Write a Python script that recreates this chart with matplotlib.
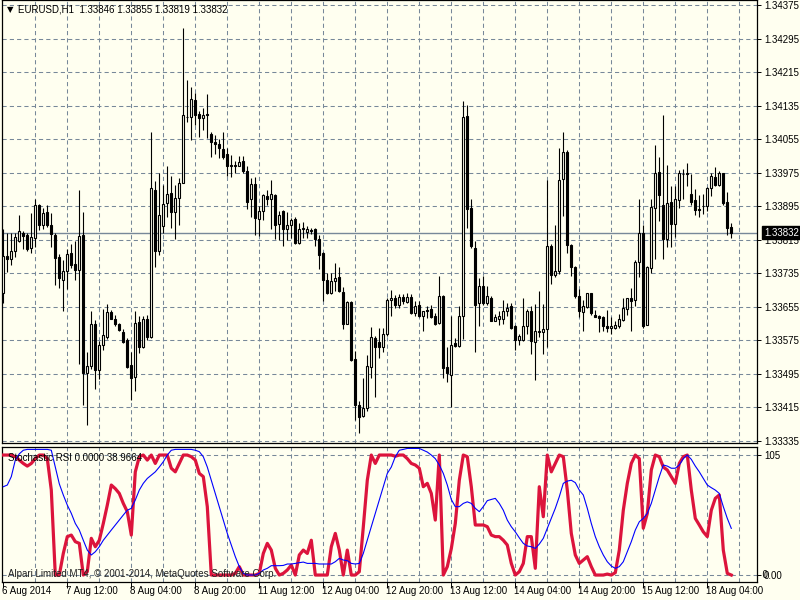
import numpy as np
import matplotlib
matplotlib.use("Agg")
import matplotlib.pyplot as plt
from matplotlib.transforms import blended_transform_factory

# ---------------- data ----------------
opens = [
 1.33687,1.33777,1.33768,1.33787,1.33811,1.33832,1.33827,1.33795,1.33819,1.33897,
 1.33850,1.33882,1.33850,1.33827,1.33774,1.33719,1.33741,1.33783,1.33758,1.33742,
 1.33827,1.33498,1.33513,1.33613,1.33503,1.33563,1.33583,1.33642,1.33626,1.33615,
 1.33596,1.33576,1.33516,1.33487,1.33618,1.33560,1.33627,1.33584,1.33934,1.33787,
 1.33848,1.33902,1.33926,1.33880,1.33914,1.33951,1.34109,1.34107,1.34149,1.34115,
 1.34105,1.34115,1.34067,1.34047,1.34044,1.34032,1.34020,1.33993,1.33993,1.33991,
 1.34003,1.33980,1.33912,1.33949,1.33864,1.33883,1.33919,1.33913,1.33921,1.33852,
 1.33883,1.33841,1.33849,1.33864,1.33807,1.33841,1.33834,1.33838,1.33840,1.33817,
 1.33783,1.33720,1.33687,1.33716,1.33726,1.33691,1.33615,1.33667,1.33531,1.33421,
 1.33394,1.33413,1.33511,1.33580,1.33572,1.33559,1.33589,1.33672,1.33675,1.33660,
 1.33678,1.33667,1.33678,1.33641,1.33659,1.33633,1.33647,1.33649,1.33633,1.33617,
 1.33680,1.33512,1.33493,1.33569,1.33562,1.33633,1.34111,1.33890,1.33795,1.33664,
 1.33704,1.33664,1.33676,1.33622,1.33626,1.33626,1.33646,1.33657,1.33608,1.33576,
 1.33576,1.33610,1.33646,1.33570,1.33596,1.33596,1.33602,1.33800,1.33731,1.33740,
 1.33960,1.34025,1.33802,1.33750,1.33681,1.33642,1.33655,1.33687,1.33636,1.33634,
 1.33631,1.33610,1.33604,1.33604,1.33608,1.33624,1.33650,1.33676,1.33672,1.33761,
 1.33830,1.33612,1.33748,1.33891,1.33976,1.33897,1.33816,1.33905,1.33853,1.33909,
 1.33973,1.33972,1.33925,1.33909,1.33889,1.33895,1.33895,1.33938,1.33964,1.33946,
 1.33974,1.33905,1.33846]
highs = [
 1.33840,1.33830,1.33830,1.33832,1.33874,1.33836,1.33832,1.33879,1.33911,1.33901,
 1.33891,1.33897,1.33879,1.33830,1.33781,1.33766,1.33793,1.33806,1.33811,1.33934,
 1.33882,1.33548,1.33644,1.33623,1.33574,1.33650,1.33662,1.33647,1.33636,1.33617,
 1.33603,1.33581,1.33546,1.33644,1.33632,1.33632,1.33636,1.34073,1.33954,1.33974,
 1.33946,1.33992,1.33966,1.33946,1.33962,1.34319,1.34195,1.34179,1.34166,1.34121,
 1.34129,1.34163,1.34073,1.34065,1.34055,1.34073,1.34033,1.34016,1.34002,1.34015,
 1.34015,1.33991,1.33962,1.33964,1.33896,1.33925,1.33933,1.33957,1.33925,1.33883,
 1.33886,1.33880,1.33868,1.33870,1.33856,1.33858,1.33847,1.33844,1.33844,1.33826,
 1.33785,1.33736,1.33736,1.33759,1.33749,1.33702,1.33669,1.33669,1.33549,1.33431,
 1.33484,1.33541,1.33607,1.33585,1.33605,1.33605,1.33676,1.33694,1.33683,1.33686,
 1.33686,1.33688,1.33686,1.33668,1.33670,1.33646,1.33656,1.33659,1.33641,1.33728,
 1.33683,1.33558,1.33633,1.33581,1.33656,1.34147,1.34137,1.33912,1.33812,1.33724,
 1.33728,1.33704,1.33680,1.33637,1.33644,1.33671,1.33665,1.33663,1.33612,1.33590,
 1.33676,1.33650,1.33657,1.33661,1.33693,1.33661,1.33958,1.33804,1.33849,1.34034,
 1.34071,1.34029,1.33805,1.33752,1.33697,1.33671,1.33689,1.33689,1.33647,1.33636,
 1.33634,1.33647,1.33630,1.33620,1.33638,1.33677,1.33677,1.33699,1.33766,1.33911,
 1.33849,1.33753,1.33913,1.34041,1.34012,1.34112,1.33993,1.33943,1.33943,1.33982,
 1.33984,1.33998,1.33972,1.33936,1.33922,1.33925,1.33940,1.33974,1.33988,1.33980,
 1.33974,1.33929,1.33855]
lows = [
 1.33664,1.33738,1.33754,1.33774,1.33809,1.33793,1.33789,1.33783,1.33797,1.33838,
 1.33840,1.33846,1.33797,1.33707,1.33699,1.33646,1.33697,1.33748,1.33719,1.33519,
 1.33421,1.33374,1.33507,1.33460,1.33483,1.33552,1.33579,1.33625,1.33609,1.33597,
 1.33568,1.33508,1.33432,1.33454,1.33545,1.33556,1.33576,1.33581,1.33751,1.33779,
 1.33830,1.33869,1.33842,1.33816,1.33850,1.33950,1.34097,1.34053,1.34089,1.34061,
 1.34077,1.34057,1.34013,1.34020,1.34009,1.34007,1.33967,1.33964,1.33974,1.33990,
 1.33974,1.33888,1.33870,1.33826,1.33823,1.33862,1.33897,1.33841,1.33817,1.33815,
 1.33799,1.33815,1.33819,1.33804,1.33806,1.33819,1.33819,1.33828,1.33799,1.33744,
 1.33669,1.33685,1.33685,1.33693,1.33691,1.33602,1.33614,1.33525,1.33385,1.33355,
 1.33392,1.33406,1.33484,1.33439,1.33532,1.33548,1.33585,1.33633,1.33653,1.33653,
 1.33662,1.33664,1.33637,1.33633,1.33630,1.33597,1.33629,1.33629,1.33611,1.33613,
 1.33485,1.33475,1.33415,1.33559,1.33559,1.33577,1.33842,1.33796,1.33548,1.33609,
 1.33660,1.33659,1.33621,1.33621,1.33612,1.33614,1.33634,1.33602,1.33552,1.33563,
 1.33574,1.33590,1.33543,1.33480,1.33584,1.33543,1.33559,1.33709,1.33726,1.33733,
 1.33871,1.33784,1.33729,1.33676,1.33630,1.33598,1.33652,1.33636,1.33630,1.33594,
 1.33598,1.33594,1.33591,1.33602,1.33604,1.33622,1.33636,1.33598,1.33656,1.33727,
 1.33604,1.33611,1.33735,1.33770,1.33859,1.33769,1.33798,1.33798,1.33822,1.33891,
 1.33913,1.33943,1.33899,1.33875,1.33869,1.33877,1.33883,1.33919,1.33944,1.33944,
 1.33897,1.33827,1.33819]
closes = [
 1.33775,1.33768,1.33789,1.33821,1.33836,1.33824,1.33793,1.33821,1.33897,1.33850,
 1.33879,1.33850,1.33828,1.33772,1.33723,1.33741,1.33780,1.33754,1.33742,1.33824,
 1.33498,1.33513,1.33613,1.33505,1.33563,1.33587,1.33642,1.33626,1.33615,1.33599,
 1.33570,1.33511,1.33485,1.33617,1.33560,1.33627,1.33584,1.33938,1.33787,1.33874,
 1.33900,1.33924,1.33882,1.33914,1.33951,1.34113,1.34107,1.34150,1.34113,1.34105,
 1.34113,1.34112,1.34047,1.34043,1.34033,1.34013,1.33992,1.33992,1.33991,1.34001,
 1.33978,1.33906,1.33949,1.33866,1.33883,1.33921,1.33912,1.33923,1.33850,1.33875,
 1.33841,1.33849,1.33862,1.33807,1.33841,1.33843,1.33840,1.33836,1.33817,1.33778,
 1.33718,1.33687,1.33716,1.33724,1.33693,1.33615,1.33667,1.33527,1.33421,1.33392,
 1.33413,1.33513,1.33582,1.33559,1.33559,1.33589,1.33671,1.33675,1.33660,1.33678,
 1.33668,1.33678,1.33641,1.33657,1.33633,1.33645,1.33645,1.33630,1.33613,1.33680,
 1.33510,1.33496,1.33565,1.33562,1.33633,1.34107,1.33888,1.33799,1.33660,1.33704,
 1.33664,1.33680,1.33622,1.33630,1.33634,1.33646,1.33653,1.33604,1.33576,1.33586,
 1.33610,1.33646,1.33573,1.33598,1.33598,1.33602,1.33800,1.33731,1.33740,1.33958,
 1.34025,1.33802,1.33750,1.33681,1.33644,1.33657,1.33687,1.33639,1.33631,1.33628,
 1.33610,1.33604,1.33610,1.33612,1.33626,1.33653,1.33676,1.33669,1.33763,1.33830,
 1.33608,1.33751,1.33893,1.33974,1.33921,1.33816,1.33903,1.33853,1.33911,1.33974,
 1.33971,1.33974,1.33905,1.33885,1.33885,1.33896,1.33938,1.33968,1.33946,1.33974,
 1.33903,1.33842,1.33832]

stoch_k = [
 100,100,100,98.6,95.8,93,90.8,93,97,100,
 100,97,70.8,0,0,18,32,33.3,27.8,26.4,
 0,2.8,30.6,23.6,29,43,58.3,75,72,68,
 59.7,52.8,33.3,86,98.6,100,95.8,100,93,100,
 100,100,89,86,93,100,100,98.6,95.8,84.7,
 82,57,0,0,0,0,0,0,1.4,7,
 0,0,0,0,1.4,18,26.4,20.8,5.6,0,
 1.4,4.2,8.3,0,16.7,20.8,18,29,0,0,
 0,0,23.6,34.7,20.8,0,20.8,0,0,2.8,
 40,79,100,93,100,100,100,100,99,100,
 100,97,93,91.7,89,73.6,76.4,68,45.8,100,
 0,7,22,43,79,100,98.6,73.6,41.7,41.7,
 41.7,40.3,33.3,32,32,29,25,9.7,0,2.8,
 9.7,32,32,5.6,73.6,48.6,100,86,93,100,
 98.6,70.8,34.7,16.7,9.7,12.5,15.3,7,0,0,
 0,0.8,0,2,20.8,54,76.4,93,100,97,
 39,51.4,87.5,100,98.6,90,87.5,82,76.4,93,
 98.6,100,70.8,47.2,41.7,36,32,54,63.9,66.7,
 20.8,1.4,0]
stoch_d = [
 73.6,75,82,95.8,101,104,104.7,104.7,104.7,104.7,
 104.7,104.7,104,90,76,66.7,58.3,51.4,43,37.5,
 29,20.8,16.7,19.4,23.6,29,33.3,37.5,41.7,45.8,
 50,54,55.6,62.5,70.8,76.4,80.5,83.3,86,90,
 94.4,100,104,104.7,104.7,104.7,104.7,104.7,104,102.8,
 98.6,90,79,68,57,45.8,34.7,25,15.3,7,
 1.4,0,0,0,1.4,4.2,5.6,7.8,7.8,7.8,
 8,9.2,9.2,9.7,10.3,10.8,9.7,9.7,9.7,9.2,
 9.2,9.2,9.2,11.1,13.9,12.5,12,9.7,9.2,9.7,
 18,29,40.3,51.4,62.5,73.6,84.7,90,98.6,104,
 104.7,105.5,105.5,105.5,105.5,104,102.5,100,97,91.7,
 84.7,75,63,57,57,59.7,61,59.7,55.6,52.8,
 57,62,63,63.9,59.7,54,45.8,40.3,36,31,
 26.4,24.2,23.6,22.2,25.8,30.6,38.9,47.2,55.6,65.3,
 76.4,78.3,79,77,70.8,66.7,55.6,43,32,23.6,
 16.7,11.1,7.5,5.6,7,11.1,19.4,27.8,37.5,44.4,
 47.2,51.4,59.7,70.8,82,91.7,90.8,89,89,91.7,
 97,100,96.4,90.8,86,80.5,75,72.8,70.8,68,
 57,47.2,38.9]

price_levels = [1.34375,1.34295,1.34215,1.34135,1.34055,1.33975,1.33895,
                1.33815,1.33735,1.33655,1.33575,1.33495,1.33415,1.33335]
date_idx = [0,16,32,48,64,80,96,112,128,144,160,176]
date_labels = ["6 Aug 2014","7 Aug 12:00","8 Aug 04:00","8 Aug 20:00",
               "11 Aug 12:00","12 Aug 04:00","12 Aug 20:00","13 Aug 12:00",
               "14 Aug 04:00","14 Aug 20:00","15 Aug 12:00","18 Aug 04:00"]
last_price = 1.33832
header = "EURUSD,H1  1.33846 1.33855 1.33819 1.33832"
ind_label = "Stochastic RSI 0.0000 38.9664"
watermark = "Alpari Limited MT4, \u00a9 2001-2014, MetaQuotes Software Corp."

# ---------------- style ----------------
BG = "#FFFFF0"
GRID = "#778899"
FONT = "Liberation Sans"
FS = 7.0
plt.rcParams['font.family'] = [FONT, 'DejaVu Sans']

o = np.array(opens); h = np.array(highs); l = np.array(lows); c = np.array(closes)
n = len(o)
x = np.arange(n)

fig = plt.figure(figsize=(8, 6), dpi=100, facecolor=BG)
ax1 = fig.add_axes([2/800, 157/600, 755/800, 443/600], facecolor=BG)
ax2 = fig.add_axes([2/800, 18/600, 755/800, 135/600], facecolor=BG)

xlim = (-0.325, (757 - 3.3) / 4)
dash = (0, (4, 3))

# main panel
ax1.set_xlim(*xlim)
ax1.set_ylim(1.33330, 1.34387)
for p in price_levels:
    ax1.axhline(p, color=GRID, lw=0.75, ls=dash, zorder=0)
for gi in range(8, 190, 8):
    ax1.axvline(gi, color=GRID, lw=0.75, ls=dash, zorder=0)
ax1.axhline(last_price, color=GRID, lw=1.0, zorder=1)

ax1.vlines(x, l, h, color='black', lw=0.8, zorder=2)
up = c >= o
bot = np.minimum(o, c)
hgt = np.maximum(np.abs(c - o), 0.000012)
ax1.bar(x[up], hgt[up], bottom=bot[up], width=0.5, facecolor=BG,
        edgecolor='black', lw=0.8, zorder=3)
ax1.bar(x[~up], hgt[~up], bottom=bot[~up], width=0.5, facecolor='black',
        edgecolor='black', lw=0.8, zorder=3)

ax1.yaxis.set_ticks_position('right')
ax1.set_yticks(price_levels)
ax1.set_yticklabels([f"{p:.5f}" for p in price_levels])
ax1.tick_params(axis='y', direction='out', length=3, width=0.7, pad=2,
                labelsize=FS, colors='black')
ax1.set_xticks([])
for s in ax1.spines.values():
    s.set_linewidth(0.9)
    s.set_color('black')

ax1.annotate(f"{last_price:.5f}", xy=(1.0, last_price),
             xycoords=blended_transform_factory(ax1.transAxes, ax1.transData),
             xytext=(5, 0), textcoords='offset points', va='center', ha='left',
             color='white', fontsize=FS, zorder=10,
             bbox=dict(boxstyle='square,pad=0.18', fc='black', ec='black'))

fig.text(10/800, 1 - 10/600, "\u25bc", fontsize=6, va='center', ha='center',
         family='DejaVu Sans', color='black')
fig.text(18/800, 1 - 10/600, header, fontsize=FS, va='center', ha='left',
         color='black')

# indicator panel
ax2.set_xlim(*xlim)
ax2.set_ylim(-5.8, 106.7)
for lv in (0, 100):
    ax2.axhline(lv, color=GRID, lw=0.75, ls=dash, zorder=0)
for gi in range(8, 190, 8):
    ax2.axvline(gi, color=GRID, lw=0.75, ls=dash, zorder=0)
ax2.plot(x, stoch_k, color='#DC143C', lw=2.3, zorder=3, solid_joinstyle='round')
ax2.plot(x, stoch_d, color='#0000FF', lw=0.8, zorder=4)

ax2.yaxis.set_ticks_position('right')
ax2.set_yticks([100, 0])
ax2.set_yticklabels(["105", "0.00"])
ax2.tick_params(axis='y', direction='out', length=3, width=0.7, pad=2,
                labelsize=FS, colors='black')
ax2.text(1.0, 0, "  0", transform=blended_transform_factory(ax2.transAxes, ax2.transData),
         fontsize=FS, va='center', ha='left')
ax2.set_xticks(date_idx)
ax2.set_xticklabels([])
ax2.tick_params(axis='x', direction='out', length=4, width=0.7)
btr = blended_transform_factory(ax2.transData, ax2.transAxes)
for i, lab in zip(date_idx, date_labels):
    ax2.annotate(lab, xy=(i, 0), xycoords=btr, xytext=(-1, -3),
                 textcoords='offset points', ha='left', va='top', fontsize=FS)
for s in ax2.spines.values():
    s.set_linewidth(0.9)
    s.set_color('black')

ax2.annotate(ind_label, xy=(0, 100), xycoords=blended_transform_factory(ax2.transAxes, ax2.transData),
             xytext=(4, -2), textcoords='offset points', ha='left', va='center',
             fontsize=FS, color='black', zorder=6)
ax2.annotate(watermark, xy=(0, 0), xycoords=blended_transform_factory(ax2.transAxes, ax2.transData),
             xytext=(4, 1), textcoords='offset points', ha='left', va='center',
             fontsize=FS, color='#202020', zorder=6)

fig.savefig("out.png", dpi=100, facecolor=BG)
